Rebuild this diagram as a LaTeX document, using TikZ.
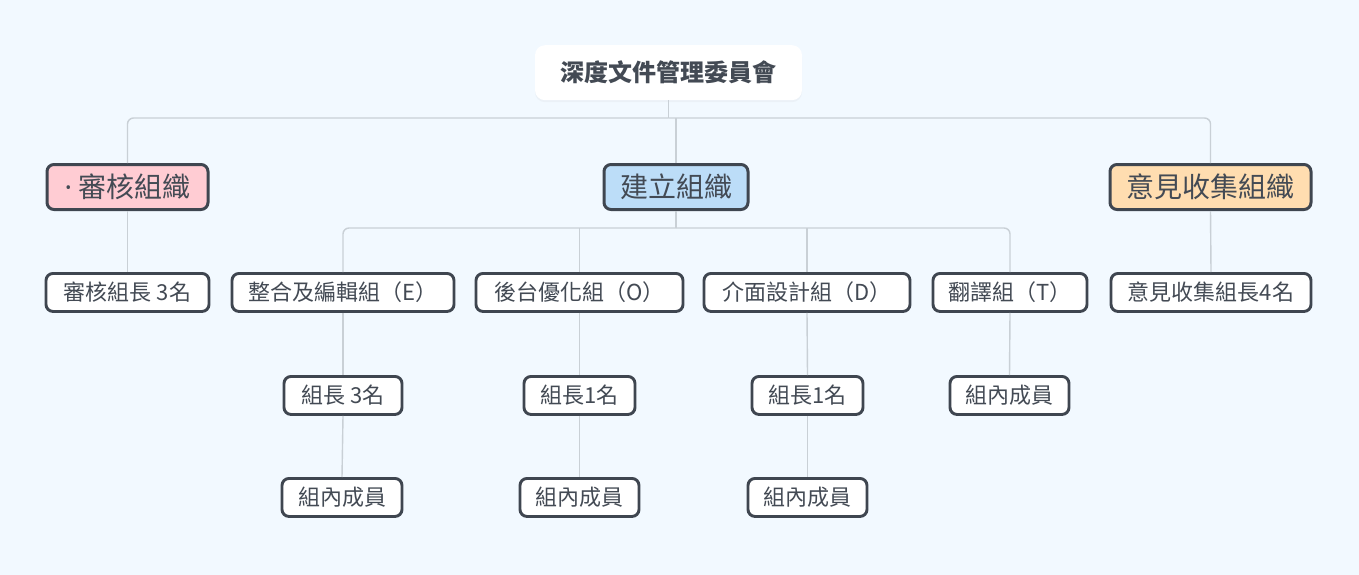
\documentclass[tikz,border=0pt]{standalone}
\usepackage{fontspec}
\setmainfont{Noto Sans CJK TC}
\newfontfamily\latinfont{Noto Sans}
\usetikzlibrary{shadows}
\definecolor{bg}{HTML}{F2F9FF}
\definecolor{ln}{HTML}{C9D0D6}
\definecolor{bd}{HTML}{3F4650}
\definecolor{tx}{HTML}{434A54}
\definecolor{pinkf}{HTML}{FFCCD3}
\definecolor{bluef}{HTML}{BCDDF8}
\definecolor{orf}{HTML}{FFDDB0}
\tikzset{
 conn/.style={draw=ln, line width=1.4pt, rounded corners=6pt},
 leaf/.style={draw=bd, line width=2.9pt, fill=white, rounded corners=7pt, text=tx,
   font=\fontsize{22}{26}\selectfont, minimum height=38pt, inner sep=0pt, anchor=north},
 topic/.style={draw=bd, line width=3pt, rounded corners=7pt, text=tx,
   font=\fontsize{28}{32}\selectfont, minimum height=45pt, inner sep=0pt, anchor=north},
 rootbox/.style={fill=white, rounded corners=10pt, text=tx,
   font=\bfseries\fontsize{24}{28}\selectfont, minimum width=267pt, minimum height=55pt,
   anchor=north, drop shadow={opacity=0.06, shadow xshift=0pt, shadow yshift=-2pt}},
}
\begin{document}
\begin{tikzpicture}[x=1pt,y=-1pt]
\fill[bg] (0,0) rectangle (1359,575);
\useasboundingbox (0,0) rectangle (1359,575);

% root
\node[rootbox] (root) at (668.5,45) {深度文件管理委員會};

% level 1
\node[topic, fill=pinkf, minimum width=161pt] (shen) at (127.5,163) {{\latinfont ·} 審核組織};
\node[topic, fill=bluef, minimum width=144pt] (jian) at (676,163) {建立組織};
\node[topic, fill=orf, minimum width=201pt] (yi) at (1210.5,163) {意見收集組織};

% level 2
\node[leaf, minimum width=163pt] (shenz) at (127.5,272) {審核組長 3名};
\node[leaf, minimum width=222pt] (E) at (343,272) {整合及編輯組（E）};
\node[leaf, minimum width=207pt] (O) at (579.5,272) {後台優化組（O）};
\node[leaf, minimum width=206pt] (D) at (807,272) {介面設計組（D）};
\node[leaf, minimum width=154pt] (T) at (1010,272) {翻譯組（T）};
\node[leaf, minimum width=200pt] (yiz) at (1211,272) {意見收集組長4名};

% level 3
\node[leaf, minimum width=118pt] (Ez) at (343,375) {組長 3名};
\node[leaf, minimum width=111pt] (Oz) at (579.5,375) {組長1名};
\node[leaf, minimum width=111pt] (Dz) at (807.5,375) {組長1名};
\node[leaf, minimum width=119pt] (Tm) at (1009.5,375) {組內成員};

% level 4
\node[leaf, minimum width=120pt] (Em) at (342,477) {組內成員};
\node[leaf, minimum width=119pt] (Om) at (579.5,477) {組內成員};
\node[leaf, minimum width=119pt] (Dm) at (807.5,477) {組內成員};

% bus points
\coordinate (b1) at (668.5,118);
\coordinate (b2) at (676,228);

\draw[conn] (root.south) -- (b1);
\draw[conn] (shen.north) |- (b1);
\draw[conn] (yi.north) |- (b1);
\draw[conn] (jian.north) -- (jian.north |- b1);

\draw[conn] (shen.south) -- (shenz.north);
\draw[conn] (yi.south) -- (yiz.north);

\draw[conn] (jian.south) -- (b2);
\draw[conn] (E.north) |- (b2);
\draw[conn] (T.north) |- (b2);
\draw[conn] (O.north) -- (O.north |- b2);
\draw[conn] (D.north) -- (D.north |- b2);

\draw[conn] (E.south) -- (Ez.north);
\draw[conn] (O.south) -- (Oz.north);
\draw[conn] (D.south) -- (Dz.north);
\draw[conn] (T.south) -- (Tm.north);
\draw[conn] (Ez.south) -- (Em.north);
\draw[conn] (Oz.south) -- (Om.north);
\draw[conn] (Dz.south) -- (Dm.north);
\end{tikzpicture}
\end{document}
